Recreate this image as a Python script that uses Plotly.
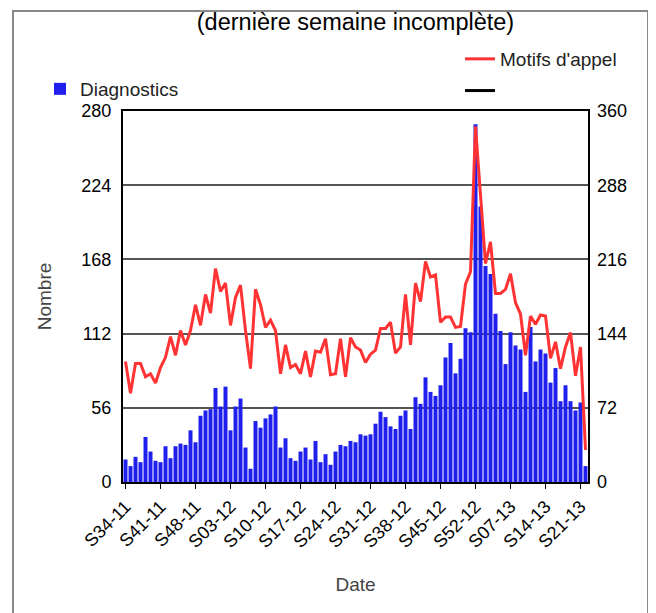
import plotly.graph_objects as go

# Week categories: S34-11 ... S52-11, S01-12 ... S52-12, S01-13 ... S22-13
weeks = ([f"S{w:02d}-11" for w in range(34, 53)]
         + [f"S{w:02d}-12" for w in range(1, 53)]
         + [f"S{w:02d}-13" for w in range(1, 23)])

tick_labels = ["S34-11", "S41-11", "S48-11", "S03-12", "S10-12", "S17-12", "S24-12",
               "S31-12", "S38-12", "S45-12", "S52-12", "S07-13", "S14-13", "S21-13"]

diagnostics = [17, 12, 19, 15, 34, 23, 16, 15, 27, 18, 27, 29, 28, 39, 30, 50,
               54, 55, 71, 57, 72, 39, 57, 63, 26, 10, 46, 41, 48, 51, 57, 26,
               33, 18, 16, 23, 26, 17, 31, 15, 21, 13, 23, 28, 27, 31, 30, 36,
               35, 36, 44, 53, 49, 42, 40, 50, 54, 40, 64, 59, 79, 68, 65, 73,
               94, 105, 82, 93, 116, 113, 270, 208, 163, 157, 127, 114, 89, 113, 103, 100,
               68, 117, 91, 100, 97, 75, 86, 61, 73, 61, 54, 60, 12]

motifs = [117, 86, 115, 115, 102, 105, 96, 111, 121, 141, 123, 147, 133, 147, 172, 152,
          182, 164, 207, 185, 193, 152, 179, 191, 147, 110, 187, 172, 150, 157, 147, 105,
          133, 111, 114, 105, 127, 102, 127, 126, 139, 104, 105, 139, 102, 140, 131, 128,
          116, 124, 128, 149, 149, 155, 125, 131, 182, 133, 193, 175, 214, 199, 201, 155,
          160, 160, 150, 151, 192, 204, 345, 280, 212, 233, 183, 183, 187, 202, 174, 163,
          123, 161, 153, 162, 161, 120, 136, 110, 131, 145, 103, 131, 31]

font_family = "Liberation Sans, Arial, sans-serif"

# page is offset by the default 8px body margin
OFF = 8
W, H = 648, 605
L, R, T, B = 115, 68, 103, 131
pw, ph = W - L - R, H - T - B


def px(x_page):
    return (x_page - OFF - L) / pw


def py(y_page):
    return (H - B - (y_page - OFF)) / ph


fig = go.Figure()
fig.add_trace(go.Bar(
    x=weeks, y=diagnostics, name="Diagnostics",
    marker=dict(color="#2020ee", line=dict(width=0)),
    legend="legend", yaxis="y",
))
fig.add_trace(go.Scatter(
    x=weeks, y=motifs, name="Motifs d'appel", mode="lines",
    line=dict(color="#ff3333", width=3),
    legend="legend2", legendgroup="a", yaxis="y2",
))
fig.add_trace(go.Scatter(
    x=[weeks[0]], y=[None], name=" ", mode="lines",
    line=dict(color="black", width=3),
    legend="legend2", legendgroup="b", yaxis="y2",
))

fig.update_layout(
    width=W, height=H,
    margin=dict(l=L, r=R, t=T, b=B, autoexpand=False),
    paper_bgcolor="white", plot_bgcolor="white",
    font=dict(family=font_family, size=18, color="black"),
    title=dict(text="(dernière semaine incomplète)", x=0.5, xanchor="center",
               xref="paper", yref="container", y=1 - 14 / H, yanchor="middle",
               font=dict(size=23.5, color="black")),
    bargap=0.2,
    showlegend=True,
    legend=dict(x=px(40), xanchor="left", y=py(89), yanchor="middle",
                bgcolor="rgba(0,0,0,0)", font=dict(size=19, color="#222"),
                itemwidth=30),
    legend2=dict(x=px(460), xanchor="left", y=py(75), yanchor="middle",
                 bgcolor="rgba(0,0,0,0)", font=dict(size=19, color="#222"),
                 tracegroupgap=4, itemwidth=30),
    xaxis=dict(
        type="category", categoryorder="array", categoryarray=weeks,
        tickmode="array", tickvals=tick_labels, ticktext=tick_labels,
        tickangle=-45, ticks="outside", ticklen=5, tickcolor="black",
        tickfont=dict(size=18, color="black"),
        showline=True, linecolor="black", linewidth=2, mirror=True,
        showgrid=False, range=[-0.5, len(weeks) - 0.5], automargin=False,
        title=dict(text="Date", font=dict(size=19, color="#444"), standoff=27),
    ),
    yaxis=dict(
        range=[0, 280], tickmode="linear", tick0=0, dtick=56,
        showgrid=True, gridcolor="#555", gridwidth=2,
        showline=True, linecolor="black", linewidth=2, mirror=True,
        ticks="", tickfont=dict(size=18, color="black"), ticklabelstandoff=6,
        zeroline=False, automargin=False,
        title=dict(text="Nombre", font=dict(size=19, color="#444"), standoff=25),
    ),
    yaxis2=dict(
        range=[0, 360], tickmode="linear", tick0=0, dtick=72,
        overlaying="y", side="right", showgrid=False, zeroline=False,
        ticks="", tickfont=dict(size=18, color="black"), ticklabelstandoff=8,
        automargin=False,
    ),
    shapes=[dict(type="rect", xref="paper", yref="paper",
                 x0=px(13), x1=px(648), y0=py(640), y1=py(11),
                 line=dict(color="#888", width=2), layer="above")],
)

fig.write_html("out.html")
